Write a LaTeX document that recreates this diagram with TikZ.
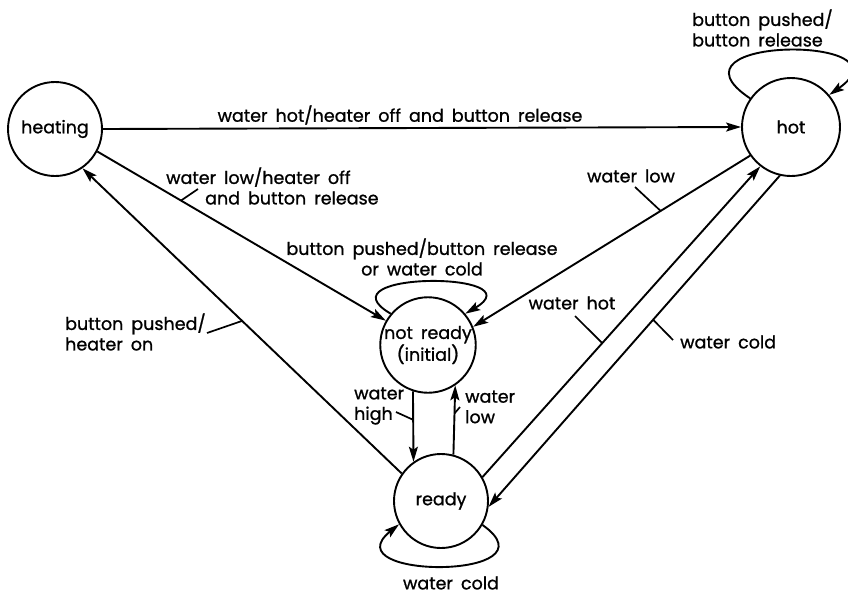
\documentclass[tikz,border=0pt]{standalone}
\usepackage{fontspec}
\setmainfont{Poppins}[FakeBold=1]
\usetikzlibrary{arrows.meta}

\newcommand\lblfont{\fontsize{17.5}{20.5}\selectfont\spaceskip=8pt plus 1pt minus 1pt\relax}

\tikzset{
  state/.style={draw, circle, line width=1.9pt, inner sep=0pt, align=center},
  edge/.style={line width=1.9pt, -{Stealth[length=15pt,width=9pt,inset=3pt]}},
  tick/.style={line width=1.7pt},
  lbl/.style={inner sep=0pt, font=\lblfont}
}

\begin{document}
\begin{tikzpicture}[x=1pt, y=-1pt]
\useasboundingbox (0,0) rectangle (848,597);

% states
\node[state, minimum size=94pt, lbl] (heating)  at (55,129)  {heating};
\node[state, minimum size=98pt, lbl] (hot)      at (791,127) {hot};
\node[state, minimum size=90pt, lbl] (notready) at (428,345) {not ready\\(initial)};
\node[state, minimum size=94pt, lbl] (ready)    at (441,501) {ready};

% transitions
\draw[edge] (heating.east) -- (hot.west);
\draw[edge] (heating.-28.7) -- coordinate[pos=0.29] (t1) (notready.150);
\draw[edge] (ready.145) -- coordinate[pos=0.5] (t2) (heating.-55);
\draw[edge] (hot.215) -- coordinate[pos=0.323] (t3) (notready.22);
\draw[edge] (ready.30) -- coordinate[pos=0.431] (t4) (hot.232);
\draw[edge] (hot.257.5) -- coordinate[pos=0.435] (t5) (ready.-7);
\draw[edge] (notready.252) -- coordinate[pos=0.405] (t6) (ready.125);
\draw[edge] (ready.75) -- coordinate[pos=0.595] (t7) (notready.304);

% self loops
\draw[edge] (hot.145) .. controls (655,35) and (915,35) .. (hot.40);
\draw[edge] (notready.140) .. controls (318,271) and (538,271) .. (notready.40);
\draw[edge] (ready.-30) .. controls (560,580) and (330,580) .. (ready.209);

% label ticks
\coordinate (k1) at (198,189);
\coordinate (k2) at (207,333);
\coordinate (k3) at (635,187);
\coordinate (k4) at (575,316);
\coordinate (k5) at (673,340);
\coordinate (k6) at (396,412);
\coordinate (k7) at (460,407);
\draw[tick] (t1) -- (k1);
\draw[tick] (t2) -- (k2);
\draw[tick] (t3) -- (k3);
\draw[tick] (t4) -- (k4);
\draw[tick] (t5) -- (k5);
\draw[tick] (t6) -- (k6);
\draw[tick] (t7) -- (k7);

% labels
\node[lbl] (l1) at (400,115) {water hot/heater off and button release};
\node[lbl, anchor=west, align=left] (l2) at (166,186) {water low/heater off\\\hspace*{39pt}and button release};
\node[lbl, anchor=west, align=left] (l3) at (65,332) {button pushed/\\heater on};
\node[lbl, anchor=west, align=left] (l4) at (692,28) {button pushed/\\button release};
\node[lbl, align=center] (l5) at (422,257) {button pushed/button release\\or water cold};
\node[lbl] (l6) at (631,176) {water low};
\node[lbl] (l7) at (572,303) {water hot};
\node[lbl, anchor=west] (l8) at (680,342) {water cold};
\node[lbl, anchor=west, align=left] (l9) at (354,406) {water\\high};
\node[lbl, anchor=west, align=left] (l10) at (465,407) {water\\low};
\node[lbl] (l11) at (451,583) {water cold};
\end{tikzpicture}
\end{document}
